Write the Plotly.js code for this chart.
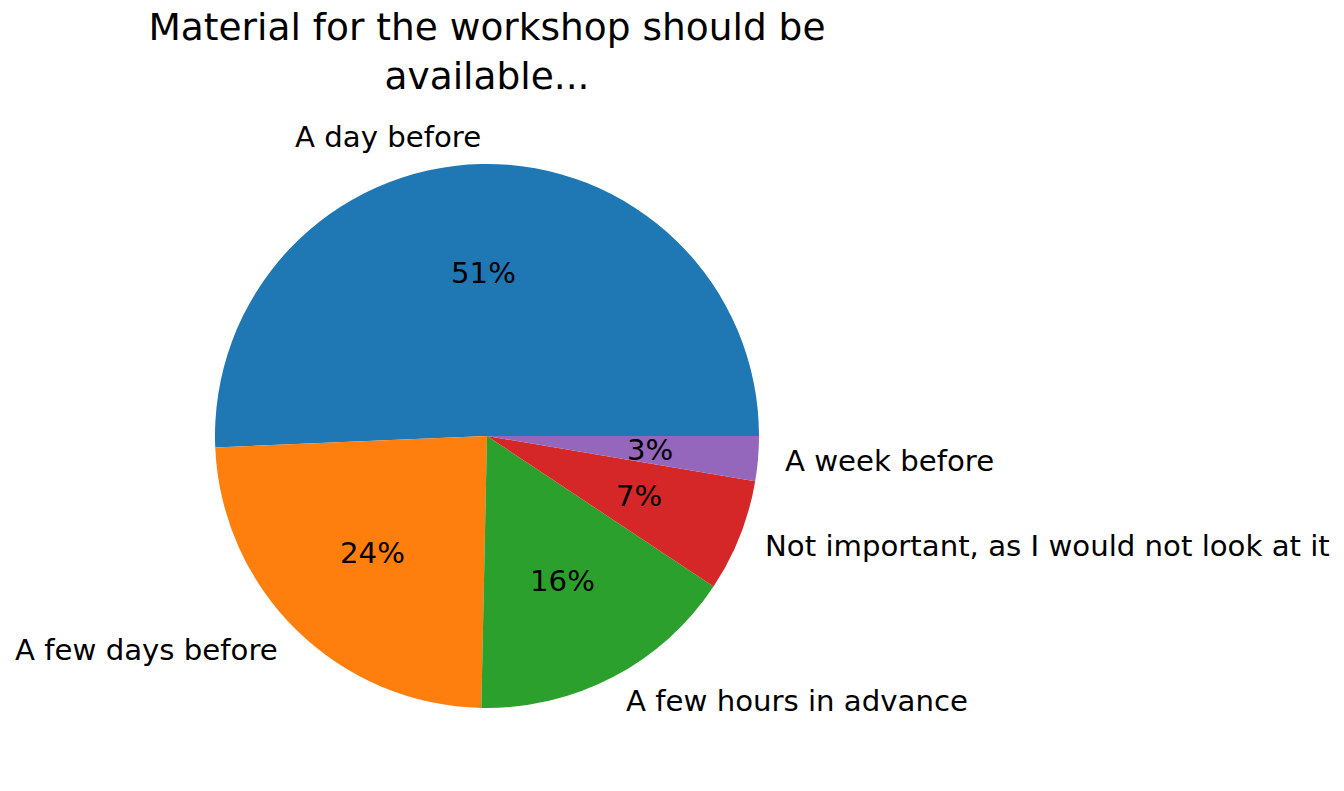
<!DOCTYPE html>
<html>
<head>
<meta charset="utf-8">
<script src="https://cdn.plot.ly/plotly-3.0.1.min.js"></script>
<style>
html,body{margin:0;padding:0;background:#fff}
#chart{width:1344px;height:791px}
</style>
</head>
<body>
<div id="chart"></div>
<script>

const labels = ["A day before","A few days before","A few hours in advance","Not important, as I would not look at it","A week before"]
const counts = [38,18,12,5,2]
const colors = ["#1f77b4","#ff7f0e","#2ca02c","#d62728","#9467bd"]

const W = 1344
const H = 791

/* pie box in paper units */
const dom = {x:[215/W,759/W], y:[83/H,627/H]}

const cx = (dom.x[0]+dom.x[1])/2
const cy = (dom.y[0]+dom.y[1])/2
const rPx = (dom.x[1]-dom.x[0])*W/2

const total = counts.reduce((a,b)=>a+b,0)

/* plotly ccw: first slice ends at "rotation", so shift it to start at 3 o'clock */
const rot = 90 - 360*counts[0]/total

/* labels like matplotlib: name at 1.1 r, percent at 0.6 r */
let notes = []
let start = 0

counts.forEach((c,i)=>{

let frac = c/total
let mid = (start + frac/2)*2*Math.PI
start += frac

let cs = Math.cos(mid)
let sn = Math.sin(mid)

notes.push({
x: cx + 1.1*rPx*cs/W,
y: cy + 1.1*rPx*sn/H,
xref:"paper", yref:"paper",
text: labels[i],
showarrow:false,
xanchor: cs>0 ? "left" : "right",
xshift: cs>0 ? -2 : 2,
yanchor:"middle",
font:{size:29.2,color:"#000"}
})

notes.push({
x: cx + 0.6*rPx*cs/W,
y: cy + 0.6*rPx*sn/H,
xref:"paper", yref:"paper",
text: Math.round(frac*100)+"%",
showarrow:false,
xanchor:"center",
yanchor:"middle",
font:{size:29.2,color:"#000"}
})

})

Plotly.newPlot("chart",[{

type:"pie",
labels:labels,
values:counts,
sort:false,
direction:"counterclockwise",
rotation:rot,
domain:dom,
marker:{colors:colors,line:{width:0}},
textinfo:"none",
hoverinfo:"label+percent"

}],

{
width:W,
height:H,
margin:{t:0,b:0,l:0,r:0},
showlegend:false,
paper_bgcolor:"#fff",
font:{family:"DejaVu Sans"},
title:{
text:"Material for the workshop should be<br>available...",
x:cx, xanchor:"center",
y:1-40/H, yanchor:"top",
font:{size:37.5,color:"#000"}
},
annotations:notes
},

{displayModeBar:false}

)

</script>
</body>
</html>
